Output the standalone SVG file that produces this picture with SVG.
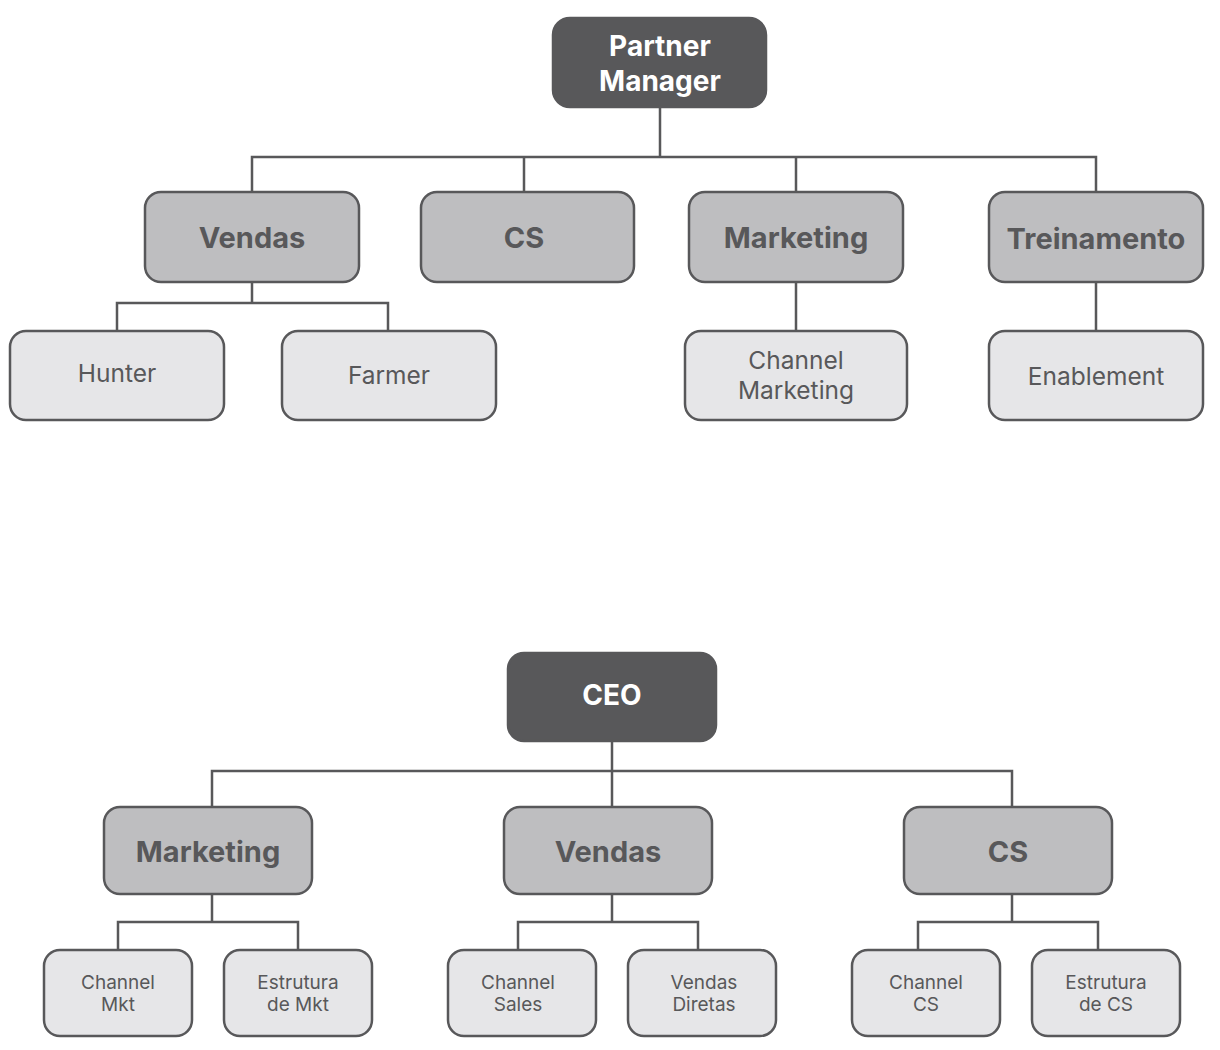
<svg xmlns="http://www.w3.org/2000/svg" width="1220" height="1050" viewBox="0 0 1220 1050">
<style>
.l1{fill:#58585a;stroke:#58585a;stroke-width:2.5}
.l2{fill:#bebec0;stroke:#58585a;stroke-width:2.5}
.l3{fill:#e6e6e8;stroke:#58585a;stroke-width:2.5}
.t1{font-family:Inter,"Liberation Sans",sans-serif;font-weight:700;font-size:28px;fill:#ffffff;text-anchor:middle}
.t2{font-family:Inter,"Liberation Sans",sans-serif;font-weight:700;font-size:29px;fill:#58585a;text-anchor:middle}
.t3{font-family:Inter,"Liberation Sans",sans-serif;font-weight:400;font-size:24.5px;fill:#58585a;text-anchor:middle}
.t4{font-family:Inter,"Liberation Sans",sans-serif;font-weight:400;font-size:19px;fill:#58585a;text-anchor:middle}
.c{fill:none;stroke:#58585a;stroke-width:2.5}
</style>
<rect width="1220" height="1050" fill="#ffffff"/>
<g id="connectors">
<path class="c" d="M660 107V157M252 192V157H1096V192M524 157V192M796 157V192"/>
<path class="c" d="M252 282V303M117 331V303H388V331"/>
<path class="c" d="M796 282V331M1096 282V331"/>
<path class="c" d="M612 741V807M212 807V771H1012V807"/>
<path class="c" d="M212 894V922M118 950V922H298V950"/>
<path class="c" d="M612 894V922M518 950V922H698V950"/>
<path class="c" d="M1012 894V922M918 950V922H1098V950"/>
</g>
<g id="partner-manager"><rect class="l1" x="553" y="18" width="213" height="89" rx="17"/><text class="t1" x="660" y="56">Partner</text><text class="t1" x="660" y="91">Manager</text></g>
<g id="vendas-top"><rect class="l2" x="145" y="192" width="214" height="90" rx="16"/><text class="t2" x="252" y="248">Vendas</text></g>
<g id="cs-top"><rect class="l2" x="421" y="192" width="213" height="90" rx="16"/><text class="t2" x="524" y="248">CS</text></g>
<g id="marketing-top"><rect class="l2" x="689" y="192" width="214" height="90" rx="16"/><text class="t2" x="796" y="248">Marketing</text></g>
<g id="treinamento"><rect class="l2" x="989" y="192" width="214" height="90" rx="16"/><text class="t2" x="1096" y="249">Treinamento</text></g>
<g id="hunter"><rect class="l3" x="10" y="331" width="214" height="89" rx="16"/><text class="t3" x="117" y="382">Hunter</text></g>
<g id="farmer"><rect class="l3" x="282" y="331" width="214" height="89" rx="16"/><text class="t3" x="389" y="384">Farmer</text></g>
<g id="channel-marketing"><rect class="l3" x="685" y="331" width="222" height="89" rx="16"/><text class="t3" x="796" y="369">Channel</text><text class="t3" x="796" y="399">Marketing</text></g>
<g id="enablement"><rect class="l3" x="989" y="331" width="214" height="89" rx="16"/><text class="t3" x="1096" y="385">Enablement</text></g>
<g id="ceo"><rect class="l1" x="508" y="653" width="208" height="88" rx="16"/><text class="t1" x="612" y="705">CEO</text></g>
<g id="marketing-bottom"><rect class="l2" x="104" y="807" width="208" height="87" rx="16"/><text class="t2" x="208" y="862">Marketing</text></g>
<g id="vendas-bottom"><rect class="l2" x="504" y="807" width="208" height="87" rx="16"/><text class="t2" x="608" y="862">Vendas</text></g>
<g id="cs-bottom"><rect class="l2" x="904" y="807" width="208" height="87" rx="16"/><text class="t2" x="1008" y="862">CS</text></g>
<g id="channel-mkt"><rect class="l3" x="44" y="950" width="148" height="86" rx="16"/><text class="t4" x="118" y="989">Channel</text><text class="t4" x="118" y="1011">Mkt</text></g>
<g id="estrutura-mkt"><rect class="l3" x="224" y="950" width="148" height="86" rx="16"/><text class="t4" x="298" y="989">Estrutura</text><text class="t4" x="298" y="1011">de Mkt</text></g>
<g id="channel-sales"><rect class="l3" x="448" y="950" width="148" height="86" rx="16"/><text class="t4" x="518" y="989">Channel</text><text class="t4" x="518" y="1011">Sales</text></g>
<g id="vendas-diretas"><rect class="l3" x="628" y="950" width="148" height="86" rx="16"/><text class="t4" x="704" y="989">Vendas</text><text class="t4" x="704" y="1011">Diretas</text></g>
<g id="channel-cs"><rect class="l3" x="852" y="950" width="148" height="86" rx="16"/><text class="t4" x="926" y="989">Channel</text><text class="t4" x="926" y="1011">CS</text></g>
<g id="estrutura-cs"><rect class="l3" x="1032" y="950" width="148" height="86" rx="16"/><text class="t4" x="1106" y="989">Estrutura</text><text class="t4" x="1106" y="1011">de CS</text></g>
</svg>
